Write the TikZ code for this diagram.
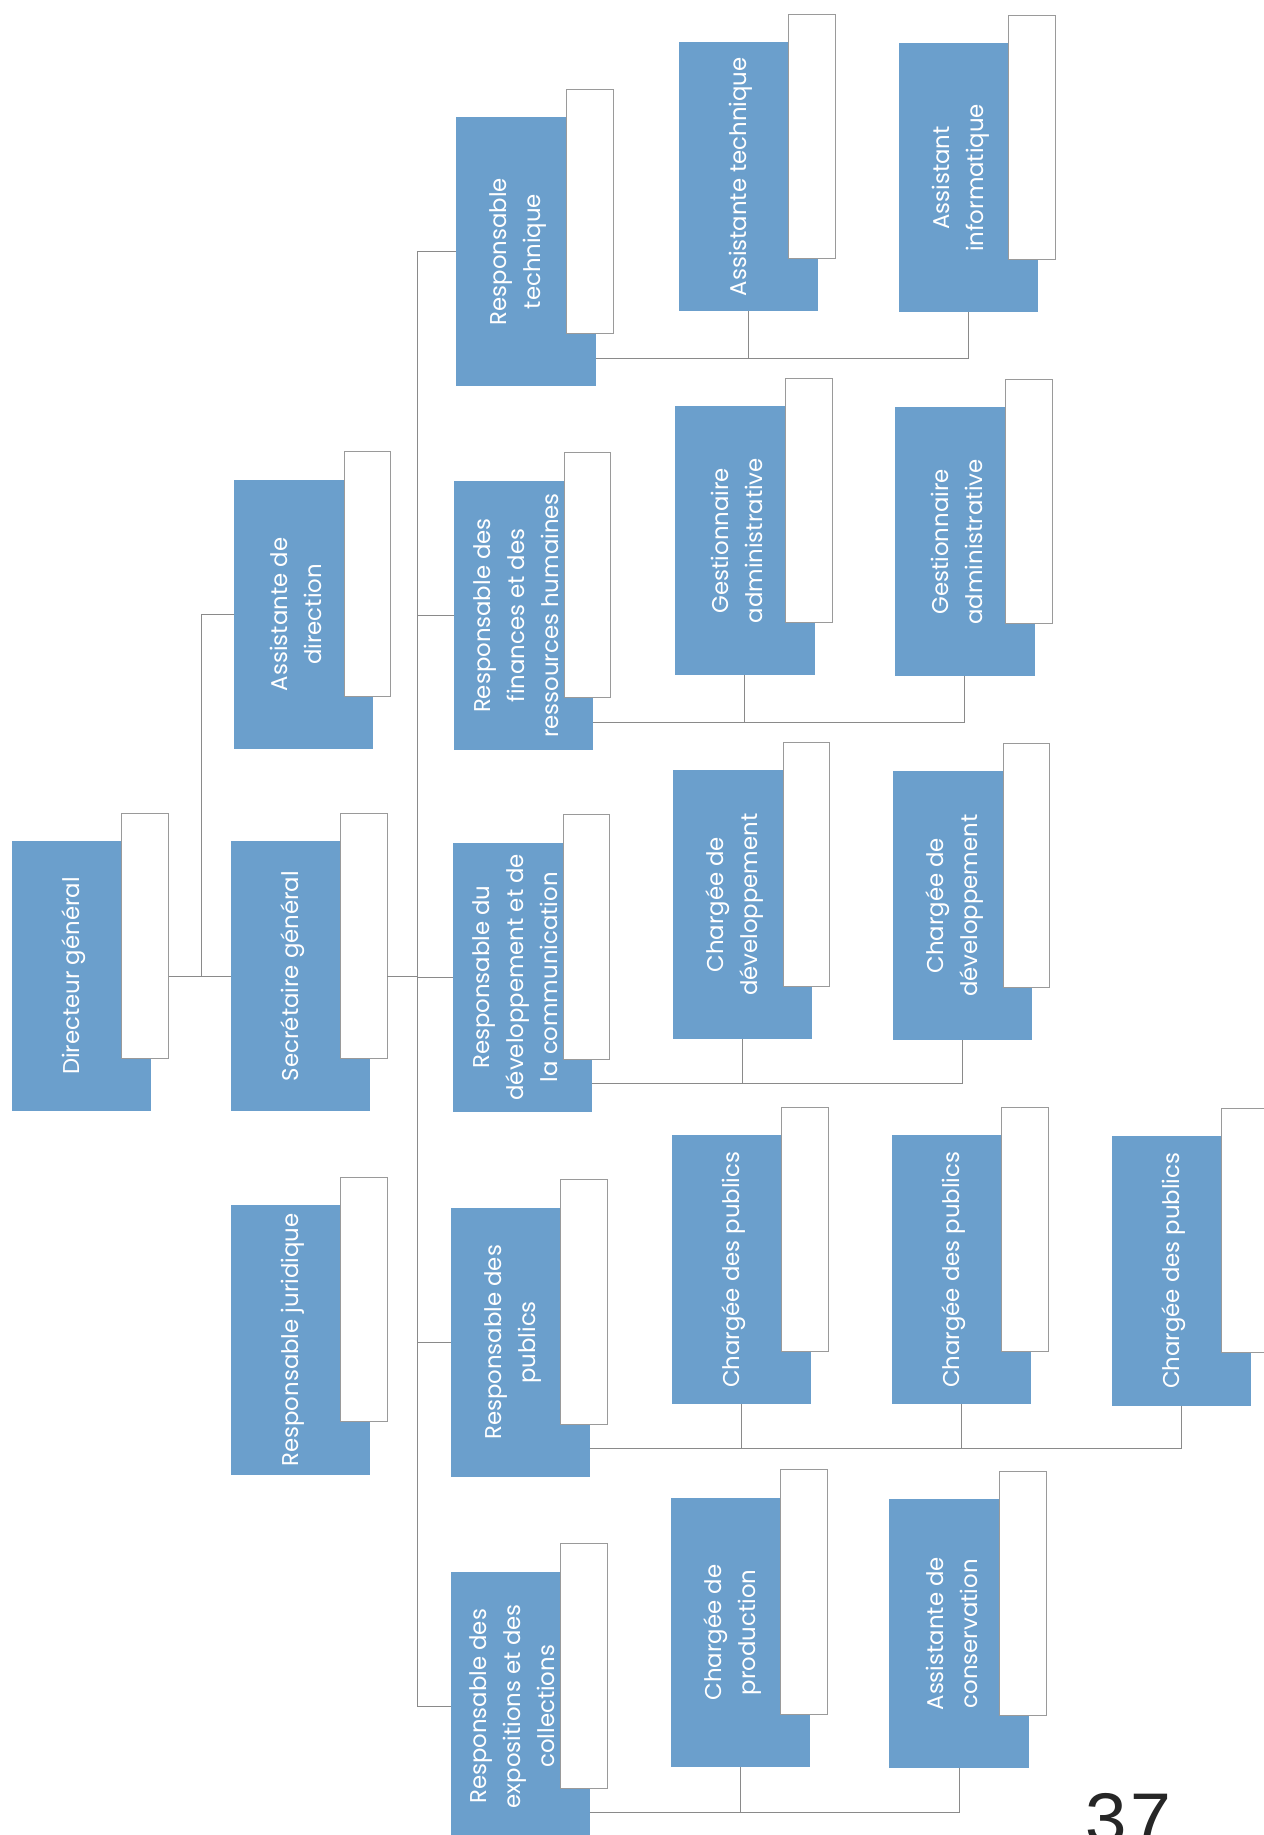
\documentclass[tikz,border=0pt]{standalone}
\usepackage{fontspec}
\newfontfamily\boxfont{Poppins}
\newfontfamily\pagefont{Liberation Mono}
\definecolor{boxblue}{HTML}{6B9FCC}
\definecolor{linegray}{HTML}{8A8A8A}
\definecolor{tagedge}{HTML}{9A9A9A}
\newcommand\orgunit[4]{%
  \node[orgbox] (#1) at (#2,#3) {};
  \node[lbl] (#1t) at ([xshift=53pt,yshift=-115pt]#1.north west) {#4};
  \node[tagbox] (#1w) at ([xshift=94pt,yshift=24pt]#1.north west) {};
}
\begin{document}
\begin{tikzpicture}[x=1pt,y=-1pt,
  orgbox/.style={fill=boxblue, draw=none, minimum width=119pt, minimum height=230pt, anchor=north west, inner sep=0pt, outer sep=0pt},
  tagbox/.style={fill=white, draw=tagedge, line width=0.7pt, minimum width=40pt, minimum height=209pt, anchor=north west, inner sep=0pt, outer sep=0pt},
  lbl/.style={text=white, font=\boxfont\fontsize{19.5}{29}\selectfont, align=center, rotate=90, inner sep=0pt},
  link/.style={draw=linegray, line width=0.8pt},
]
\useasboundingbox (0,0) rectangle (1080,1568);
\clip (0,0) rectangle (1080,1568);
\fill[white] (0,0) rectangle (1080,1568);

% column 1
\orgunit{dg}{10}{719}{Directeur général}
% column 2
\orgunit{ad}{200}{410}{Assistante de\\direction}
\orgunit{sg}{197}{719}{Secrétaire général}
\orgunit{rj}{197}{1030}{Responsable juridique}
% column 3
\orgunit{rt}{390}{100}{Responsable\\technique}
\orgunit{rf}{388}{411}{Responsable des\\finances et des\\ressources humaines}
\orgunit{rd}{387}{720}{Responsable du\\développement et de\\la communication}
\orgunit{rp}{385}{1032}{Responsable des\\publics}
\orgunit{re}{385}{1343}{Responsable des\\expositions et des\\collections}
% column 4
\orgunit{at}{580}{36}{Assistante technique}
\orgunit{ga1}{577}{347}{Gestionnaire\\administrative}
\orgunit{cd1}{575}{658}{Chargée de\\développement}
\orgunit{cp1}{574}{970}{Chargée des publics}
\orgunit{cpr}{573}{1280}{Chargée de\\production}
% column 5
\orgunit{ai}{768}{37}{Assistant\\informatique}
\orgunit{ga2}{765}{348}{Gestionnaire\\administrative}
\orgunit{cd2}{763}{659}{Chargée de\\développement}
\orgunit{cp2}{762}{970}{Chargée des publics}
\orgunit{acs}{760}{1281}{Assistante de\\conservation}
% column 6
\orgunit{cp3}{950}{971}{Chargée des publics}

% connectors
\coordinate (j1x) at (172,0);
\coordinate (j2x) at (357,0);
\coordinate (j1) at (dg.center -| j1x);
\coordinate (j2) at (sg.center -| j2x);
\draw[link] (dgw.east |- dg.center) -- (sg.west);
\draw[link] (j1) |- (ad.west);
\draw[link] (sgw.east |- sg.center) -- (j2);
\foreach \n in {rt,rf,rd,rp,re} \draw[link] (j2) |- (\n.west);

\draw[link] ([yshift=24pt]rt.south east) -| (at.south);
\draw[link] ([yshift=24pt]rt.south east) -| (ai.south);
\draw[link] ([yshift=24pt]rf.south east) -| (ga1.south);
\draw[link] ([yshift=24pt]rf.south east) -| (ga2.south);
\draw[link] ([yshift=24pt]rd.south east) -| (cd1.south);
\draw[link] ([yshift=24pt]rd.south east) -| (cd2.south);
\draw[link] ([yshift=24pt]rp.south east) -| (cp1.south);
\draw[link] ([yshift=24pt]rp.south east) -| (cp2.south);
\draw[link] ([yshift=24pt]rp.south east) -| (cp3.south);
\draw[link] ([yshift=24pt]re.south east) -| (cpr.south);
\draw[link] ([yshift=24pt]re.south east) -| (acs.south);

% page number
\node[font=\pagefont\fontsize{64}{64}\selectfont, anchor=base west, inner sep=0pt, text=black!85] (pg) at (926,1575) {37};
\end{tikzpicture}
\end{document}
